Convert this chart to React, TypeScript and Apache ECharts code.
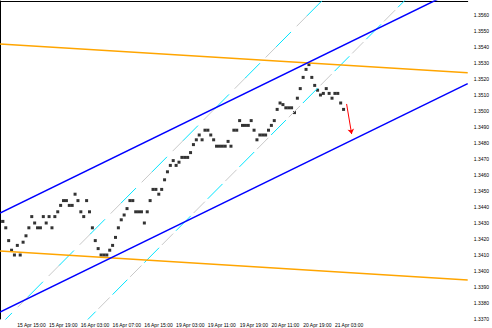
import React, { useEffect, useRef } from "react";
import * as echarts from "echarts";

// ---- data ----
const closes: number[] = [
  1.3431, 1.3431, 1.3427, 1.3419, 1.3413, 1.341, 1.3416, 1.341, 1.3418, 1.3422,
  1.3427, 1.3434, 1.343, 1.3427, 1.3427, 1.3434, 1.343, 1.3434, 1.3427, 1.3434,
  1.3437, 1.3441, 1.3444, 1.3444, 1.3441, 1.3441, 1.3448, 1.3444, 1.3437, 1.3434,
  1.3444, 1.3437, 1.3427, 1.3419, 1.3414, 1.341, 1.341, 1.341, 1.3413, 1.3416,
  1.3421, 1.3427, 1.3432, 1.3435, 1.3439, 1.3444, 1.3444, 1.3437, 1.3437, 1.3437,
  1.343, 1.3437, 1.3444, 1.3451, 1.3451, 1.3448, 1.3451, 1.3457, 1.3462, 1.3466,
  1.3469, 1.3466, 1.3468, 1.3471, 1.3471, 1.3471, 1.3474, 1.3479, 1.3482, 1.3485,
  1.3482, 1.3488, 1.3488, 1.3485, 1.3482, 1.3478, 1.3478, 1.3478, 1.3478, 1.3481,
  1.3478, 1.3488, 1.3488, 1.3494, 1.3491, 1.3491, 1.3491, 1.3494, 1.3488, 1.3482,
  1.3485, 1.3485, 1.3485, 1.3488, 1.3491, 1.3494, 1.3501, 1.3505, 1.3504, 1.3502,
  1.3502, 1.3502, 1.3499, 1.3508, 1.3514, 1.3521, 1.3526, 1.3529, 1.3521, 1.3516,
  1.3513, 1.351, 1.3511, 1.3514, 1.3511, 1.3508, 1.3511, 1.3511, 1.3505, 1.3501,
];

const currentPrice = 1.3497;

// trend lines: [x, price] endpoints
const upperChannel: number[][] = [[0, 1.343625], [162, 1.3579]];
const lowerChannel: number[][] = [[0, 1.337438], [162, 1.351713]];
const upperOrange: number[][] = [[0, 1.354188], [162, 1.352394]];
const lowerOrange: number[][] = [[0, 1.34125], [162, 1.339438]];
const diagA: number[][] = [[0, 1.336625], [114, 1.35734]];
const diagB: number[][] = [[28, 1.33653], [145, 1.35778]];
const arrowFrom: number[] = [120.05, 1.35044];
const arrowTo: number[] = [121.8, 1.34856];

const xTickUnits: number[] = [6, 17, 28, 39, 50, 61, 72, 83, 94, 105, 116];
const xTickLabels: string[] = [
  "15 Apr 15:00", "15 Apr 19:00", "16 Apr 03:00", "16 Apr 07:00", "16 Apr 15:00",
  "19 Apr 03:00", "19 Apr 11:00", "19 Apr 19:00", "20 Apr 11:00", "20 Apr 19:00",
  "21 Apr 03:00",
];
const yTicks: number[] = [
  1.337, 1.338, 1.339, 1.34, 1.341, 1.342, 1.343, 1.344, 1.345, 1.346,
  1.347, 1.348, 1.349, 1.35, 1.351, 1.352, 1.353, 1.354, 1.355, 1.356,
];

const FONT = "Liberation Sans";

export default function App() {
  const ref = useRef<HTMLDivElement>(null);
  useEffect(() => {
    if (!ref.current) return;
    const chart = echarts.init(ref.current, null, { renderer: "svg" });
    const lineBase = (data: number[][], color: string, width: number, extra: any = {}) => ({
      type: "line",
      data,
      showSymbol: false,
      symbol: "none",
      silent: true,
      clip: true,
      lineStyle: { color, width, ...extra },
    });
    chart.setOption({
      animation: false,
      backgroundColor: "#ffffff",
      grid: { left: 0, right: 21, top: 1, bottom: 9 },
      xAxis: [
        {
          type: "value",
          min: 0,
          max: 162,
          axisLine: { show: false },
          axisTick: { show: false },
          splitLine: { show: false },
          axisLabel: {
            customValues: xTickUnits,
            formatter: (v: number) => {
              const i = xTickUnits.indexOf(Math.round(v));
              return i >= 0 ? xTickLabels[i] : "";
            },
            align: "left",
            fontSize: 5,
            margin: 3,
            color: "#000",
            fontFamily: FONT,
          },
        },
        {
          type: "value",
          position: "top",
          min: 0,
          max: 162,
          axisLine: { show: true, lineStyle: { color: "#000", width: 1 } },
          axisTick: { show: false },
          axisLabel: { show: false },
          splitLine: { show: false },
        },
      ],
      yAxis: {
        type: "value",
        position: "right",
        min: 1.337,
        max: 1.356875,
        axisLine: { show: true, lineStyle: { color: "#000", width: 1 } },
        axisTick: { show: false },
        splitLine: { show: false },
        axisLabel: {
          customValues: yTicks,
          formatter: (v: number) => v.toFixed(4),
          fontSize: 5,
          margin: 6,
          color: "#000",
          fontFamily: FONT,
        },
      },
      series: [
        lineBase(diagA, "#c8c8c8", 1, { type: [16, 28], dashOffset: -25 }),
        lineBase(diagB, "#c8c8c8", 1, { type: [16, 29], dashOffset: -25 }),
        lineBase(diagA, "#00e5ff", 1, { type: [21, 23], dashOffset: 4 }),
        lineBase(diagB, "#00e5ff", 1, { type: [21, 24], dashOffset: 0 }),
        lineBase(upperOrange, "#ffa500", 1.5),
        lineBase(lowerOrange, "#ffa500", 1.5),
        lineBase(upperChannel, "#0000ff", 1.5),
        lineBase(lowerChannel, "#0000ff", 1.5),
        {
          type: "scatter",
          data: closes.map((p, i) => [i, p]),
          symbol: "rect",
          symbolSize: [3, 3],
          silent: true,
          itemStyle: { color: "#000" },
          markLine: {
            silent: true,
            symbol: "none",
            data: [{ yAxis: currentPrice }],
            lineStyle: { opacity: 0 },
            label: {
              show: true,
              position: "end",
              distance: 3,
              formatter: currentPrice.toFixed(4),
              color: "#fff",
              backgroundColor: "#000",
              fontSize: 5,
              padding: [1, 2, 0, 2],
              fontFamily: FONT,
            },
          },
        },
        {
          type: "scatter",
          data: [],
          silent: true,
          markLine: {
            silent: true,
            symbol: ["none", "arrow"],
            symbolSize: 5,
            label: { show: false },
            lineStyle: { color: "#ff0000", width: 1, type: "solid" },
            data: [[{ coord: arrowFrom }, { coord: arrowTo }]],
          },
        },
      ],
    });
    return () => chart.dispose();
  }, []);
  return (
    <div
      ref={ref}
      style={{ position: "fixed", left: 0, top: 0, width: 492, height: 328 }}
    />
  );
}
